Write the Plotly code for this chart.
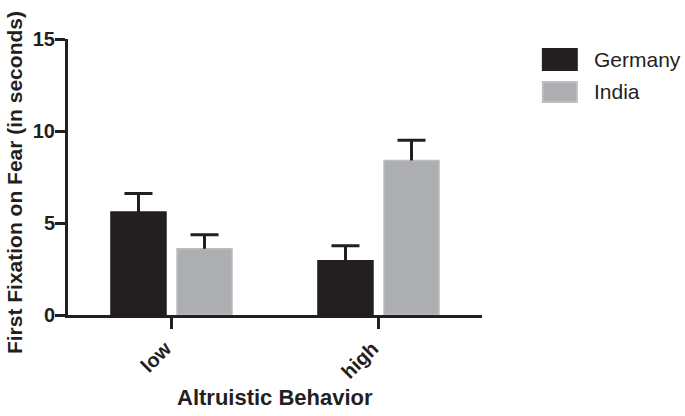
import plotly.graph_objects as go

categories = ["low", "high"]
germany = [5.6, 2.95]
germany_err = [1.0, 0.82]
india = [3.6, 8.4]
india_err = [0.76, 1.1]
yticks = [0, 5, 10, 15]

dark = "#231f20"
grey = "#adaeb1"
font_family = "Liberation Sans, Arial, Helvetica, sans-serif"

fig = go.Figure()


def add_series(name, vals, errs, fill, edge):
    # bar with stem only (no caps)
    fig.add_trace(go.Bar(
        name=name, x=categories, y=vals, offsetgroup=name,
        marker=dict(color=fill, line=dict(color=edge, width=1.5)),
        error_y=dict(type="data", array=errs, arrayminus=[0] * len(vals), symmetric=False,
                     color=dark, thickness=3, width=0),
    ))
    # cap only at the top of the error bar
    fig.add_trace(go.Bar(
        name=name + " cap", x=categories, y=[0] * len(vals),
        base=[v + e for v, e in zip(vals, errs)], offsetgroup=name,
        marker=dict(color="rgba(0,0,0,0)", line=dict(width=0)),
        error_y=dict(type="data", array=[0] * len(vals), symmetric=True,
                     color=dark, thickness=3, width=14),
        hoverinfo="skip",
    ))


add_series("Germany", germany, germany_err, dark, dark)
add_series("India", india, india_err, grey, "#bcbdbf")

fig.update_layout(
    width=685, height=416,
    margin=dict(l=68, r=203, t=39, b=101, autoexpand=False),
    paper_bgcolor="white", plot_bgcolor="white",
    barmode="group", bargap=0.362, bargroupgap=0.167,
    showlegend=False,
    font=dict(family=font_family, color=dark),
    xaxis=dict(
        type="category", range=[-0.5, 1.5],
        showline=True, linecolor=dark, linewidth=3,
        ticks="outside", ticklen=11, tickwidth=3, tickcolor=dark,
        tickangle=-45, showgrid=False, zeroline=False,
        ticklabelshift=-6,
        tickfont=dict(family=font_family, size=20, color=dark, weight="bold"),
    ),
    yaxis=dict(
        range=[0, 15], tickvals=yticks, ticktext=[str(v) for v in yticks],
        showline=True, linecolor=dark, linewidth=3,
        ticks="outside", ticklen=10, tickwidth=3, tickcolor=dark,
        showgrid=False, zeroline=False, ticklabelstandoff=-4,
        tickfont=dict(family=font_family, size=20, color=dark, weight="bold"),
    ),
)

# axis titles
fig.add_annotation(text="<b>First Fixation on Fear (in seconds)</b>", xref="paper", yref="paper",
                   x=-0.1304, y=0.478, xanchor="center", yanchor="middle", textangle=-90,
                   showarrow=False, font=dict(family=font_family, size=21, color=dark))
fig.add_annotation(text="<b>Altruistic Behavior</b>", xref="paper", yref="paper",
                   x=0.5, y=-0.3, xanchor="center", yanchor="middle",
                   showarrow=False, font=dict(family=font_family, size=22, color=dark))

# legend
legend_items = [("Germany", dark, dark, 0.888, 0.964), ("India", grey, "#bcbdbf", 0.772, 0.844)]
for name, fill, edge, y0, y1 in legend_items:
    fig.add_shape(type="rect", xref="paper", yref="paper", x0=1.147, x1=1.229, y0=y0, y1=y1,
                  fillcolor=fill, line=dict(color=edge, width=2))
    fig.add_annotation(text=name, xref="paper", yref="paper", x=1.266, y=(y0 + y1) / 2,
                       xanchor="left", yanchor="middle", showarrow=False,
                       font=dict(family=font_family, size=21, color=dark))

fig.write_html("out.html", config={"displayModeBar": False},
               post_script="document.body.style.margin='0';document.body.style.overflow='hidden';")
